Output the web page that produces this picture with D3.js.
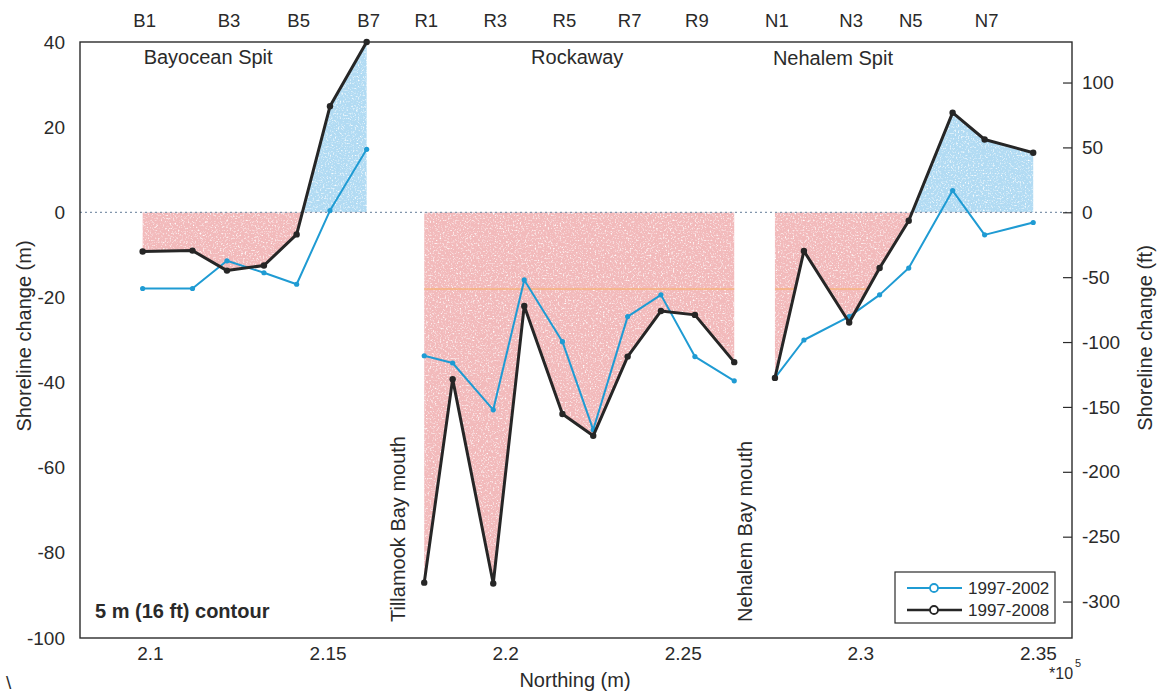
<!DOCTYPE html>
<html>
<head>
<meta charset="utf-8">
<script src="https://cdn.jsdelivr.net/npm/d3@7"></script>
<style>
  body { margin: 0; background: #fff; }
  svg { display: block; font-family: "Liberation Sans", Arial, sans-serif; }
</style>
</head>
<body>
<svg id="chart" width="1160" height="695"></svg>
<script>
// Transect stations along the coast (northing in metres)
const bayStations  = ["B1","B2","B3","B4","B5","B6","B7"];
const bayNorthing  = [209794, 211197, 212168, 213209, 214130, 215068, 216101];
const bay2002      = [-17.9, -17.9, -11.4, -14.2, -16.9, 0.4, 14.8];
const bay2008      = [-9.2, -9.0, -13.7, -12.5, -5.2, 24.9, 40.0];

const rockStations = ["R1","R2","R3","R4","R5","R6","R7","R8","R9","R10"];
const rockNorthing = [217722, 218522, 219665, 220538, 221613, 222480, 223449, 224386, 225343, 226450];
const rock2002     = [-33.7, -35.4, -46.4, -15.9, -30.4, -51.1, -24.5, -19.4, -33.9, -39.6];
const rock2008     = [-87.0, -39.2, -87.2, -22.0, -47.4, -52.5, -33.9, -23.2, -24.1, -35.2];

const nehStations  = ["N1","N2","N3","N4","N5","N6","N7","N8"];
const nehNorthing  = [227596, 228412, 229687, 230543, 231363, 232599, 233500, 234868];
const neh2002      = [-38.9, -30.0, -24.5, -19.4, -13.1, 5.1, -5.3, -2.4];
const neh2008      = [-38.9, -9.1, -25.9, -13.1, -2.0, 23.4, 17.1, 14.0];

const siteNames    = ["Bayocean Spit", "Rockaway", "Nehalem Spit"];
const seriesNames  = ["1997-2002", "1997-2008"];
const xTicks       = [210000, 215000, 220000, 225000, 230000, 235000];
const yTicks       = [-100, -80, -60, -40, -20, 0, 20, 40];
const ftTicks      = [-300, -250, -200, -150, -100, -50, 0, 50, 100];
const orangeLevel  = -18;

const colors = { "1997-2002": "#1f9bd3", "1997-2008": "#262626" };

const sites = [
  { name: siteNames[0], stations: bayStations,  northing: bayNorthing,  a: bay2002,  b: bay2008 },
  { name: siteNames[1], stations: rockStations, northing: rockNorthing, a: rock2002, b: rock2008 },
  { name: siteNames[2], stations: nehStations,  northing: nehNorthing,  a: neh2002,  b: neh2008 }
];

const svg = d3.select("#chart");
const pLeft = 80, pRight = 1072, pTop = 42, pBottom = 638;

const x = d3.scaleLinear().domain([208030, 235960]).range([pLeft, pRight]);
const y = d3.scaleLinear().domain([-100, 40]).range([pBottom, pTop]);
const yFt = d3.scaleLinear().domain([-100 / 0.3048, 40 / 0.3048]).range([pBottom, pTop]);

const defs = svg.append("defs");
defs.append("clipPath").attr("id", "below")
  .append("rect").attr("x", pLeft).attr("y", y(0)).attr("width", pRight - pLeft).attr("height", pBottom - y(0));
defs.append("clipPath").attr("id", "above")
  .append("rect").attr("x", pLeft).attr("y", pTop).attr("width", pRight - pLeft).attr("height", y(0) - pTop);

// speckled paint texture for the shaded areas
const grain = defs.append("filter").attr("id", "grain")
  .attr("x", 0).attr("y", 0).attr("width", 1).attr("height", 1);
grain.append("feTurbulence").attr("type", "fractalNoise").attr("baseFrequency", 0.6)
  .attr("numOctaves", 2).attr("seed", 3).attr("result", "noise");
grain.append("feColorMatrix").attr("in", "noise").attr("type", "matrix")
  .attr("values", "0 0 0 0 0  0 0 0 0 0  0 0 0 0 0  0 0 0 -3 2.6").attr("result", "mask");
grain.append("feComposite").attr("in", "SourceGraphic").attr("in2", "mask").attr("operator", "in");

const plot = svg.append("g");

// shaded erosion / accretion relative to the 1997-2008 change
const area = d3.area()
  .x(d => x(d.n)).y0(y(0)).y1(d => y(d.v));

sites.forEach(s => {
  const pts = s.northing.map((n, i) => ({ n, v: s.b[i] }));
  plot.append("path").datum(pts).attr("d", area)
    .attr("fill", "#efa9ab").attr("opacity", 0.8)
    .attr("clip-path", "url(#below)").attr("filter", "url(#grain)");
  plot.append("path").datum(pts).attr("d", area)
    .attr("fill", "#9fd2f0").attr("opacity", 0.8)
    .attr("clip-path", "url(#above)").attr("filter", "url(#grain)");
});

// faint orange reference line inside the eroded areas
const shadeClip = defs.append("clipPath").attr("id", "shade");
sites.forEach(s => {
  const pts = s.northing.map((n, i) => ({ n, v: s.b[i] }));
  shadeClip.append("path").attr("d", area(pts));
});
plot.append("line")
  .attr("x1", pLeft).attr("x2", pRight).attr("y1", y(orangeLevel)).attr("y2", y(orangeLevel))
  .attr("stroke", "#f6b27c").attr("stroke-width", 1.5)
  .attr("clip-path", "url(#shade)");

// zero line
plot.append("line")
  .attr("x1", pLeft).attr("x2", pRight).attr("y1", y(0)).attr("y2", y(0))
  .attr("stroke", "#8296ad").attr("stroke-width", 1.2).attr("stroke-dasharray", "2,3");

const line = d3.line().x(d => x(d.n)).y(d => y(d.v));

const seriesStyle = [
  { key: "a", name: seriesNames[0], width: 2, r: 2.6 },
  { key: "b", name: seriesNames[1], width: 3, r: 3.2 }
];

seriesStyle.forEach(st => {
  sites.forEach(s => {
    const pts = s.northing.map((n, i) => ({ n, v: s[st.key][i] }));
    plot.append("path").datum(pts).attr("d", line)
      .attr("fill", "none").attr("stroke", colors[st.name])
      .attr("stroke-width", st.width).attr("stroke-linejoin", "round");
    plot.selectAll(null).data(pts).enter().append("circle")
      .attr("cx", d => x(d.n)).attr("cy", d => y(d.v)).attr("r", st.r)
      .attr("fill", colors[st.name]);
  });
});

// frame
svg.append("rect").attr("x", pLeft).attr("y", pTop).attr("width", pRight - pLeft).attr("height", pBottom - pTop)
  .attr("fill", "none").attr("stroke", "#2b2b2b").attr("stroke-width", 1.4);

const textColor = "#2a2a2a";

// axes
const gx = svg.append("g").attr("transform", `translate(0,${pBottom})`)
  .call(d3.axisBottom(x).tickValues(xTicks).tickSize(0).tickPadding(9)
    .tickFormat(d => d3.format(".3~f")(d / 1e5)));
const gy = svg.append("g").attr("transform", `translate(${pLeft},0)`)
  .call(d3.axisLeft(y).tickValues(yTicks).tickSize(0).tickPadding(15).tickFormat(d => String(d)));
const gr = svg.append("g").attr("transform", `translate(${pRight},0)`)
  .call(d3.axisRight(yFt).tickValues(ftTicks).tickSizeInner(-9).tickSizeOuter(0).tickPadding(10)
    .tickFormat(d => String(d)));

[gx, gy, gr].forEach(g => {
  g.select(".domain").remove();
  g.selectAll("text").attr("font-size", 19).attr("fill", textColor)
    .attr("font-family", "'Liberation Sans', Arial, sans-serif");
  g.selectAll("line").attr("stroke", "#2b2b2b").attr("stroke-width", 1.2);
});

// exponent on the northing axis
svg.append("text").attr("x", 1049).attr("y", 679).attr("font-size", 16).attr("fill", textColor).text("*10");
svg.append("text").attr("x", 1075).attr("y", 667).attr("font-size", 11).attr("fill", textColor).text("5");

// station labels along the top (every other station)
sites.forEach(s => {
  s.stations.forEach((id, i) => {
    if (i % 2 === 0) {
      svg.append("text").attr("x", x(s.northing[i]) + 2).attr("y", 27)
        .attr("text-anchor", "middle").attr("font-size", 18.5).attr("fill", textColor).text(id);
    }
  });
});

// site names
svg.append("text").attr("x", x(bayNorthing[0]) + 1).attr("y", 64)
  .attr("font-size", 20).attr("fill", textColor).text(siteNames[0]);
svg.append("text").attr("x", (x(rockNorthing[0]) + x(rockNorthing[rockNorthing.length - 1])) / 2 - 2).attr("y", 64)
  .attr("text-anchor", "middle").attr("font-size", 20).attr("fill", textColor).text(siteNames[1]);
svg.append("text").attr("x", x(nehNorthing[0]) - 2).attr("y", 65)
  .attr("font-size", 20).attr("fill", textColor).text(siteNames[2]);

// inlet annotations
svg.append("text").attr("transform", `translate(${x(rockNorthing[0]) - 19},622) rotate(-90)`)
  .attr("font-size", 20).attr("fill", textColor).text("Tillamook Bay mouth");
svg.append("text").attr("transform", `translate(${x(rockNorthing[rockNorthing.length - 1]) + 18},622) rotate(-90)`)
  .attr("font-size", 20).attr("fill", textColor).text("Nehalem Bay mouth");

svg.append("text").attr("x", 95).attr("y", 618).attr("font-size", 20).attr("font-weight", "bold")
  .attr("fill", textColor).text("5 m (16 ft) contour");

// axis titles
svg.append("text").attr("transform", "translate(31,336) rotate(-90)").attr("text-anchor", "middle")
  .attr("font-size", 20).attr("fill", textColor).text("Shoreline change (m)");
svg.append("text").attr("transform", "translate(1152,338) rotate(-90)").attr("text-anchor", "middle")
  .attr("font-size", 20).attr("fill", textColor).text("Shoreline change (ft)");
svg.append("text").attr("x", 575).attr("y", 687).attr("text-anchor", "middle")
  .attr("font-size", 20).attr("fill", textColor).text("Northing (m)");

svg.append("text").attr("x", 6).attr("y", 689).attr("font-size", 19).attr("fill", textColor).text("\\");

// legend
const lg = svg.append("g");
lg.append("rect").attr("x", 895).attr("y", 572).attr("width", 160).attr("height", 51)
  .attr("fill", "#fff").attr("stroke", "#2b2b2b").attr("stroke-width", 1.2);
seriesNames.forEach((name, i) => {
  const yy = 588 + i * 22;
  lg.append("line").attr("x1", 907).attr("x2", 962).attr("y1", yy).attr("y2", yy)
    .attr("stroke", colors[name]).attr("stroke-width", i === 0 ? 2 : 2.5);
  lg.append("circle").attr("cx", 934).attr("cy", yy).attr("r", 4)
    .attr("fill", "#fff").attr("stroke", colors[name]).attr("stroke-width", 1.8);
  lg.append("text").attr("x", 968).attr("y", yy).attr("dy", "0.35em")
    .attr("font-size", 17).attr("fill", textColor).text(name);
});
</script>
</body>
</html>
